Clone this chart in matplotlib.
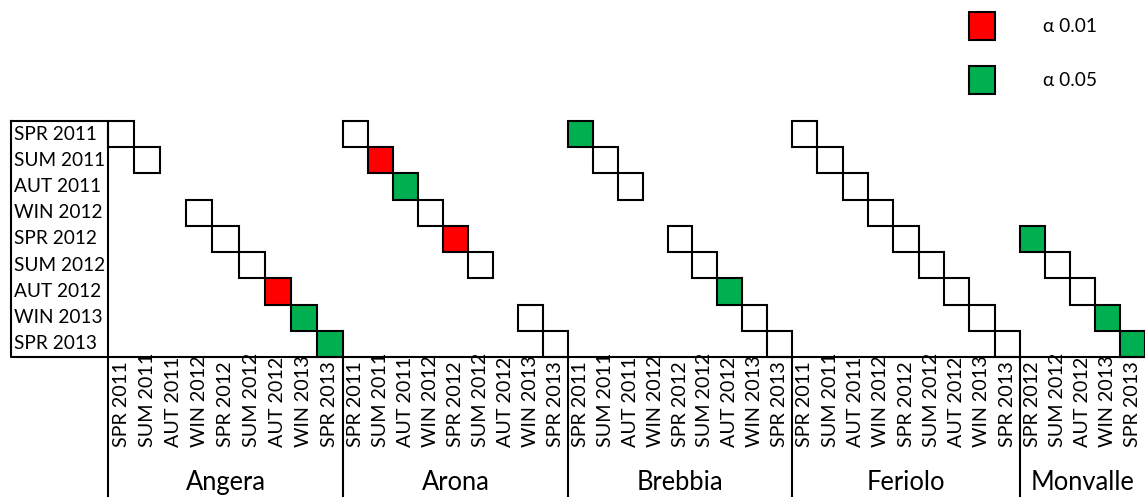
import matplotlib
matplotlib.use('Agg')
from matplotlib import pyplot as plt
from matplotlib.patches import Rectangle

# seasons in row order (also column labels)
seasons = ['SPR 2011', 'SUM 2011', 'AUT 2011', 'WIN 2012', 'SPR 2012',
           'SUM 2012', 'AUT 2012', 'WIN 2013', 'SPR 2013']
sites = ['Angera', 'Arona', 'Brebbia', 'Feriolo', 'Monvalle']

# columns of each site
angera_seasons = ['SPR 2011', 'SUM 2011', 'AUT 2011', 'WIN 2012', 'SPR 2012',
                  'SUM 2012', 'AUT 2012', 'WIN 2013', 'SPR 2013']
arona_seasons = ['SPR 2011', 'SUM 2011', 'AUT 2011', 'WIN 2012', 'SPR 2012',
                 'SUM 2012', 'AUT 2012', 'WIN 2013', 'SPR 2013']
brebbia_seasons = ['SPR 2011', 'SUM 2011', 'AUT 2011', 'WIN 2012', 'SPR 2012',
                   'SUM 2012', 'AUT 2012', 'WIN 2013', 'SPR 2013']
feriolo_seasons = ['SPR 2011', 'SUM 2011', 'AUT 2011', 'WIN 2012', 'SPR 2012',
                   'SUM 2012', 'AUT 2012', 'WIN 2013', 'SPR 2013']
monvalle_seasons = ['SPR 2012', 'SUM 2012', 'AUT 2012', 'WIN 2013', 'SPR 2013']

# '' = no sample, 'ns' = sampled, 'a01' = significant at 0.01, 'a05' = at 0.05
angera = ['ns', 'ns', '', 'ns', 'ns', 'ns', 'a01', 'a05', 'a05']
arona = ['ns', 'a01', 'a05', 'ns', 'a01', 'ns', '', 'ns', 'ns']
brebbia = ['a05', 'ns', 'ns', '', 'ns', 'ns', 'a05', 'ns', 'ns']
feriolo = ['ns', 'ns', 'ns', 'ns', 'ns', 'ns', 'ns', 'ns', 'ns']
monvalle = ['a05', 'ns', 'ns', 'a05', 'a05']

legend_labels = ['α 0.01', 'α 0.05']

fill = {'ns': 'white', 'a01': '#FF0000', 'a05': '#00B050'}

plt.rcParams['font.family'] = ['Lato', 'DejaVu Sans']

W, H = 1145, 497
fig = plt.figure(figsize=(W / 100, H / 100), dpi=100)
# x axis in pixels from the left of the grid, y axis in rows
ax = fig.add_axes([108 / W, 1 - 357 / H, 1037 / W, 236 / H])
ax.set_xlim(0, 1037)
ax.set_ylim(9, 0)
ax.axis('off')

# pixel width of each site block (the spreadsheet columns are a bit uneven)
block_widths = [235, 225, 224, 228, 125]

lw = 1.5
label_left = -97
bottom = 14.6

# row label box
ax.plot([label_left, 0, 0, label_left, label_left], [0, 0, 9, 9, 0],
        color='black', lw=lw, clip_on=False)
ax.plot([0, 1037], [9, 9], color='black', lw=lw, clip_on=False)
for i, s in enumerate(seasons):
    ax.text(label_left + 3, i + 0.5, s, ha='left', va='center', fontsize=13.7)

site_seasons = [angera_seasons, arona_seasons, brebbia_seasons,
                feriolo_seasons, monvalle_seasons]
site_marks = [angera, arona, brebbia, feriolo, monvalle]

x0 = 0
for name, cols, marks, bw in zip(sites, site_seasons, site_marks, block_widths):
    cw = bw / len(cols)
    ax.plot([x0, x0], [9, bottom], color='black', lw=lw, clip_on=False)
    for j, (season, mark) in enumerate(zip(cols, marks)):
        x = x0 + j * cw
        ax.text(x + cw / 2, 12.42, season, rotation=90, ha='center', va='bottom',
                fontsize=14.2, clip_on=False)
        if mark:
            row = seasons.index(season)
            ax.add_patch(Rectangle((x, row), cw, 1, facecolor=fill[mark],
                                   edgecolor='black', lw=lw, clip_on=False))
    ax.text(x0 + bw / 2, 14.07, name, ha='center', va='baseline',
            fontsize=18.4, clip_on=False)
    x0 += bw

# legend
for k, (lab, key) in enumerate(zip(legend_labels, ['a01', 'a05'])):
    y0 = -4.16 + k * 2.06
    ax.add_patch(Rectangle((861, y0), 26, 1.07, facecolor=fill[key],
                           edgecolor='black', lw=lw, clip_on=False))
    ax.text(935, y0 + 0.55, lab, ha='left', va='center', fontsize=13.8,
            clip_on=False)

fig.savefig('out.png', dpi=100)
